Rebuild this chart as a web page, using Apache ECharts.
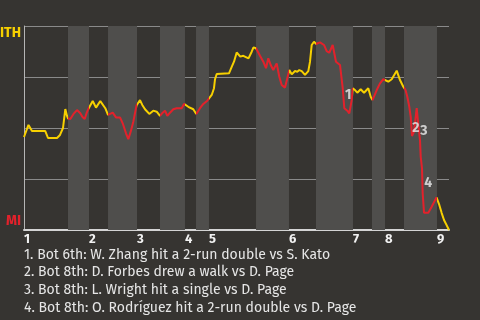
<!DOCTYPE html>
<html><head><meta charset="utf-8">
<script src="https://cdn.jsdelivr.net/npm/echarts@6/dist/echarts.min.js"></script>
<style>html,body{margin:0;padding:0;background:#363431;}#c{width:480px;height:320px;}</style>
</head><body><div id="c"></div>
<script>
// Game progress measured in plays; win probability for ITH in percent
var playX = [0,1.32,2.35,6.26,7.06,9.71,10.59,11.47,12.15,12.65,
 12.94,13.62,14.56,15.59,16.56,17.21,17.85,18.44,19.03,
 20.21,21.18,22.44,23.91,24.71,
 25.29,26.09,27.06,28.24,29.03,30.0,30.68,31.38,32.15,33.09,
 34.12,34.79,35.59,36.85,38.03,39.03,40.0,
 40.79,41.47,42.15,42.94,43.91,44.91,46.38,47.06,
 48.32,49.79,50.68,
 51.76,52.74,53.91,54.41,
 55.21,55.88,56.18,56.68,57.15,60.29,61.09,61.76,62.56,63.62,64.5,65.0,66.03,66.97,67.5,68.24,
 69.41,70.38,71.18,71.85,72.56,73.32,74.32,75.09,75.79,76.76,77.44,78.03,
 78.74,79.71,80.38,80.97,81.68,82.65,83.62,84.12,84.62,85.29,85.88,
 87.06,88.24,89.03,89.79,90.79,91.76,92.94,93.74,94.21,95.09,95.68,96.38,96.68,
 97.35,98.03,99.03,100.0,101.26,101.97,102.5,
 103.74,104.71,105.68,106.18,
 107.15,108.15,109.62,110.59,111.56,
 112.21,112.74,113.32,113.74,114.12,114.71,115.5,115.97,116.47,116.68,117.06,117.26,117.65,118.91,119.91,121.32,
 122.15,122.85,123.53,124.26,125];
var winProb = [45.6,51.5,48.5,48.5,45.1,45.1,46.6,50.0,59.3,55.9,
 54.7,54.4,56.9,58.8,57.2,55.4,54.4,57.4,59.7,
 63.2,60.0,63.2,59.7,56.4,
 55.9,57.5,55.2,55.2,52.3,47.4,44.5,48.2,53.1,61.0,
 63.7,61.3,59.2,56.9,58.5,58.0,55.9,
 57.5,58.5,55.9,57.5,59.2,59.7,59.7,61.8,
 60.4,59.2,56.9,
 59.7,61.8,63.4,64.2,
 66.2,69.5,73.9,76.5,76.8,76.8,80.0,82.5,87.0,85.0,85.4,85.9,84.1,87.4,89.5,89.1,
 85.4,82.5,79.3,84.2,80.9,78.4,81.7,75.1,71.1,69.8,74.4,78.4,
 76.3,77.9,77.6,78.4,77.9,76.0,77.9,82.5,90.7,92.3,91.2,
 92.0,90.7,87.7,86.9,90.7,82.5,80.9,69.5,59.7,58.5,57.2,63.7,69.5,
 68.6,67.3,69.0,67.3,69.5,65.3,63.7,
 68.6,71.9,73.9,74.4,
 72.7,73.9,78.1,73.5,70.2,
 68.6,65.3,60.4,55.5,46.1,48.2,59.7,51.5,44.1,35.9,30.2,18.0,8.5,8.5,11.4,16.0,
 12.3,8.3,4.9,2.5,0];
var inningStarts = [0,19.12,33.24,47.35,54.41,77.94,96.76,106.18,121.47];
var inningLabels = ['1','2','3','4','5','6','7','8','9'];
var bottomStarts = [12.94,24.71,40,50.59,68.24,85.88,102.35,111.76];
var gameEnd = 125;
var yTicks = [0,100];
var yTickLabels = ['MI','ITH'];
var noteLabels = ['1','2','3','4'];
var noteX = [95.38,115.29,117.65,118.91];
var noteY = [66.2,49.9,48.7,22.9];
var notes = [
 '1. Bot 6th: W. Zhang hit a 2-run double vs S. Kato',
 '2. Bot 8th: D. Forbes drew a walk vs D. Page',
 '3. Bot 8th: L. Wright hit a single vs D. Page',
 '4. Bot 8th: O. Rodríguez hit a 2-run double vs D. Page'
];

var YELLOW = '#f7d000', RED = '#e3212b';
var FONT = 'Fira Sans, Open Sans, sans-serif';

var lineData = playX.map(function(x,i){return [x, winProb[i]];});
var bands = bottomStarts.map(function(s,i){return [{xAxis:s},{xAxis:inningStarts[i+1]}];});
var pieces = bottomStarts.map(function(s,i){return {gte:s, lt:inningStarts[i+1], color:RED};});
var noteData = noteX.map(function(x,i){return {value:[x,noteY[i]], name:noteLabels[i]};});

var chart = echarts.init(document.getElementById('c'));
chart.setOption({
  animation:false,
  backgroundColor:'#363431',
  grid:{left:24,right:31,top:26,bottom:90,containLabel:false,outerBoundsMode:'none'},
  title:{
    text: notes.join('\n'), left:24, top:246, padding:0,
    textStyle:{color:'#e6e6e6', fontSize:14, fontWeight:'normal', fontFamily:FONT, lineHeight:17.7}
  },
  xAxis:{
    type:'value', min:0, max:gameEnd,
    axisLine:{lineStyle:{color:'#d4d4d4', width:2}},
    axisTick:{show:false},
    splitLine:{show:false},
    axisLabel:{
      customValues: inningStarts,
      formatter:function(v){var i=inningStarts.indexOf(v);return i>=0?inningLabels[i]:'';},
      align:'left', color:'#f2f2f2', fontWeight:'bold', fontSize:13, fontFamily:FONT, margin:3
    }
  },
  yAxis:{
    type:'value', min:0, max:100, interval:25,
    axisLine:{show:true, lineStyle:{color:'#b5b5b5', width:1}},
    axisTick:{show:false},
    splitLine:{lineStyle:{color:'#8a8a8a', width:1}},
    axisLabel:{
      customValues: yTicks,
      formatter:function(v){var i=yTicks.indexOf(v); if(i<0) return ''; return v===100?'{ith|'+yTickLabels[i]+'}':'{mi|'+yTickLabels[i]+'}';},
      margin:3,
      rich:{
        ith:{color:YELLOW, fontWeight:'bold', fontSize:14, fontFamily:FONT, padding:[14,0,0,0]},
        mi:{color:RED, fontWeight:'bold', fontSize:14, fontFamily:FONT, padding:[0,0,18,0]}
      }
    }
  },
  visualMap:{type:'piecewise', show:false, dimension:0, seriesIndex:0, pieces:pieces, outOfRange:{color:YELLOW}},
  series:[
    {type:'line', data:lineData, symbol:'none', lineStyle:{width:2}, z:5},
    {type:'line', data:[], markArea:{silent:true, itemStyle:{color:'#4f4e4c'}, data:bands}, z:1},
    {type:'scatter', data:noteData, symbolSize:0, z:6,
     label:{show:true, position:'inside', formatter:'{b}', color:'#eeeeee', fontWeight:'bold', fontSize:14, fontFamily:FONT}}
  ]
});
</script></body></html>
